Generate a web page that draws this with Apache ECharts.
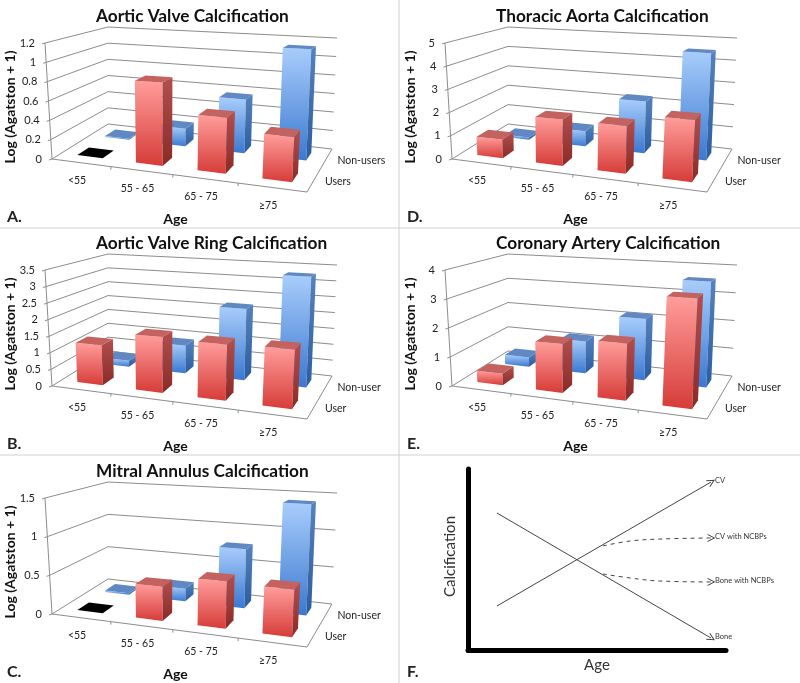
<!DOCTYPE html>
<html><head><meta charset="utf-8">
<style>html,body{margin:0;padding:0;background:#fff}#c{width:800px;height:683px}</style>
<script src="https://cdn.jsdelivr.net/npm/echarts@6/dist/echarts.min.js"></script>
</head><body><div id="c"></div>
<script>
// ---- data ----
const categories = ['<55', '55 - 65', '65 - 75', '≥75'];
const ticksA = [0, 0.2, 0.4, 0.6, 0.8, 1, 1.2];
const ticksB = [0, 0.5, 1, 1.5, 2, 2.5, 3, 3.5];
const ticksC = [0, 0.5, 1, 1.5];
const ticksD = [0, 1, 2, 3, 4, 5];
const ticksE = [0, 1, 2, 3, 4];
const usersA = [0, 0.82, 0.53, 0.41];
const nonUsersA = [0.01, 0.19, 0.56, 1.12];
const usersB = [1.2, 1.6, 1.55, 1.58];
const nonUsersB = [0.2, 0.88, 2.17, 3.25];
const usersC = [0, 0.42, 0.56, 0.54];
const nonUsersC = [0.02, 0.17, 0.77, 1.4];
const usersD = [0.8, 1.9, 1.88, 2.35];
const nonUsersD = [0.1, 0.68, 2.25, 4.5];
const usersE = [0.4, 1.6, 1.8, 3.35];
const nonUsersE = [0.35, 1.15, 2.13, 3.55];
const boneLine = [[11.2, 75.7], [94.2, 6.6]];
const cvLine = [[11.2, 24.3], [94.2, 92.8]];
const cvNcbp = [[52.3, 57.5], [62.8, 60.2], [74.4, 61.3], [94.2, 61.9]];
const boneNcbp = [[52.3, 42], [62.8, 39.8], [74.4, 38.1], [94.2, 37.6]];

const panels = [
  {t:'Aortic Valve Calcification', l:'A.', dx:0, dy:0, ticks:ticksA, u:usersA, n:nonUsersA, un:'Users', nn:'Non-users'},
  {t:'Aortic Valve Ring Calcification', l:'B.', dx:0, dy:227, ticks:ticksB, u:usersB, n:nonUsersB, un:'User', nn:'Non-user'},
  {t:'Mitral Annulus Calcification', l:'C.', dx:0, dy:455, ticks:ticksC, u:usersC, n:nonUsersC, un:'User', nn:'Non-user'},
  {t:'Thoracic Aorta Calcification', l:'D.', dx:400, dy:0, ticks:ticksD, u:usersD, n:nonUsersD, un:'User', nn:'Non-user'},
  {t:'Coronary Artery Calcification', l:'E.', dx:400, dy:227, ticks:ticksE, u:usersE, n:nonUsersE, un:'User', nn:'Non-user'}
];

// ---- layout of the 3-D box (panel relative) ----
const FONT = 'Lato, "Open Sans", sans-serif';
const floorQuad = [[52,159],[307,192],[332,149],[108,124]]; // front-left, front-right, back-right, back-left
const rise = [[-7,-116],[8,-138],[5,-111],[0,-97]];          // full-height offset at those corners
const BOX = {x:52, y:43, w:255, h:116};

function homography(q){
  const [[x0,y0],[x1,y1],[x2,y2],[x3,y3]] = q;
  const dx1=x1-x2, dx2=x3-x2, sx=x0-x1+x2-x3, dy1=y1-y2, dy2=y3-y2, sy=y0-y1+y2-y3;
  const den=dx1*dy2-dx2*dy1, g=(sx*dy2-dx2*sy)/den, h=(dx1*sy-sx*dy1)/den;
  const a=x1-x0+g*x1, b=x3-x0+h*x3, c=x0, d=y1-y0+g*y1, e=y3-y0+h*y3, f=y0;
  return (u,v)=>{const w=g*u+h*v+1; return [(a*u+b*v+c)/w,(d*u+e*v+f)/w];};
}
const floorH = homography(floorQuad);
const bil=(u,v,i)=>(1-u)*(1-v)*rise[0][i]+u*(1-v)*rise[1][i]+u*v*rise[2][i]+(1-u)*v*rise[3][i];

// screen position of a point given as pixel-in-grid (from the axes) and a depth 0..1
function project(p, px, py, depth){
  const fu=(px-(BOX.x+p.dx))/BOX.w, fh=(BOX.y+BOX.h+p.dy-py)/BOX.h;
  const a=floorH(fu,depth);
  return [a[0]+bil(fu,depth,0)*fh+p.dx, a[1]+bil(fu,depth,1)*fh+p.dy];
}
const txt=(text,x,y,align,font,fill)=>({type:'text',style:{text,x,y,align,verticalAlign:'middle',textAlign:align,textVerticalAlign:'middle',font,fill:fill||'#222'}});
const poly=(pts,fill)=>({type:'polygon',shape:{points:pts},style:{fill}});
const grad=(a,b)=>new echarts.graphic.LinearGradient(0,0,0,1,[{offset:0,color:a},{offset:1,color:b}]);

const barColors = {
  red:{front:['#ff9d9b','#d63c38'],side:['#b34f4c','#8a2a27'],top:'#c4625f'},
  blue:{front:['#a8cdfb','#3a78d0'],side:['#5583be','#2c5c9f'],top:'#6089c3'}
};
function barRender(p, col, vc){
  const BW=0.44, BD=0.2;
  return (params, api)=>{
    const i=api.value(0), val=api.value(1);
    const c0=api.coord([i,0]), c1=api.coord([i,val]), bw=api.size([1,0])[0]*BW/2;
    const P=(sx,sy,d)=>project(p,c0[0]+sx*bw,sy?c1[1]:c0[1],d);
    const v0=vc-BD/2, v1=vc+BD/2;
    const topFace=[P(-1,1,v0),P(1,1,v0),P(1,1,v1),P(-1,1,v1)];
    if(val===0) return {type:'group',children:[poly(topFace,'#000')]};
    return {type:'group',children:[
      poly([P(-1,0,v0),P(1,0,v0),P(1,1,v0),P(-1,1,v0)],grad(col.front[0],col.front[1])),
      poly([P(1,0,v0),P(1,0,v1),P(1,1,v1),P(1,1,v0)],grad(col.side[0],col.side[1])),
      poly(topFace,col.top)
    ]};
  };
}

const grids=[],xAxes=[],yAxes=[],titles=[],series=[],graphics=[];
panels.forEach((p,k)=>{
  const max=p.ticks[p.ticks.length-1];
  grids.push({left:BOX.x+p.dx,top:BOX.y+p.dy,width:BOX.w,height:BOX.h});
  xAxes.push({gridIndex:k,type:'category',data:categories,name:'Age',nameLocation:'middle',nameGap:53,
    nameTextStyle:{fontFamily:FONT,fontWeight:'bold',fontSize:14,color:'#111',padding:[0,8,0,0]},
    axisLine:{show:false},axisTick:{show:false},axisLabel:{show:false}});
  yAxes.push({gridIndex:k,type:'value',min:0,max:max,name:'Log (Agatston + 1)',nameLocation:'middle',nameGap:35,
    nameTextStyle:{fontFamily:FONT,fontWeight:'bold',fontSize:14,color:'#111',padding:[0,12,0,0]},
    axisLine:{show:false},axisTick:{show:false},axisLabel:{show:false},splitLine:{show:false}});
  titles.push({text:p.t,left:96+p.dx,top:8+p.dy,padding:0,
    textStyle:{fontFamily:FONT,fontWeight:'bold',fontSize:17.25,color:'#111'}});
  graphics.push({type:'text',left:7+p.dx,top:209+p.dy,style:{text:p.l,font:'bold 16px '+FONT,fill:'#222'}});
  const base={type:'custom',xAxisIndex:k,yAxisIndex:k,clip:false,silent:true,animation:false,encode:{x:0,y:1}};
  // walls: one item per y tick
  series.push({...base,data:p.ticks.map(t=>[0,t]),renderItem:(params,api)=>{
    const v=api.value(1), c=api.coord([0,v]), g=BOX.x+p.dx;
    const a=project(p,g,c[1],0), b=project(p,g,c[1],1), d=project(p,g+BOX.w,c[1],1);
    return {type:'group',children:[
      {type:'polyline',shape:{points:[[a[0]-3,a[1]+1],a,b,d]},style:{stroke:'#8c8c8c',lineWidth:1,fill:null}},
      txt(String(v),a[0]-10,a[1],'right','11px '+FONT)
    ]};
  }});
  // floor: one item per depth name, and the frame
  series.push({...base,data:[[0,0]],renderItem:(params,api)=>{
    const c=api.coord([0,0]), g=BOX.x+p.dx, yb=c[1], yt=api.coord([0,max])[1];
    const fl=project(p,g,yb,0), fr=project(p,g+BOX.w,yb,0), br=project(p,g+BOX.w,yb,1), tl=project(p,g,yt,0);
    const kids=[{type:'polyline',shape:{points:[tl,fl,fr,br]},style:{stroke:'#8c8c8c',lineWidth:1,fill:null}}];
    for(let i=1;i<4;i++){
      const a=project(p,g+BOX.w*i/4,yb,0);
      kids.push({type:'line',shape:{x1:a[0],y1:a[1],x2:a[0],y2:a[1]+3},style:{stroke:'#8c8c8c',lineWidth:1}});
    }
    return {type:'group',children:kids};
  }});
  // category labels
  series.push({...base,data:categories.map((_,i)=>[i,0]),renderItem:(params,api)=>{
    const c=api.coord([api.value(0),0]), a=project(p,c[0],c[1],0);
    return txt(categories[api.value(0)],a[0]-4,a[1]+18,'center','10.5px '+FONT);
  }});
  // depth labels
  series.push({...base,data:[[3,0,0.25],[3,0,0.75]],renderItem:(params,api)=>{
    const d=api.value(2), c=api.coord([0,0]), a=project(p,BOX.x+p.dx+BOX.w,c[1],d);
    return txt(d<0.5?p.un:p.nn,a[0]+11,a[1]+2,'left','10.5px '+FONT);
  }});
  series.push({...base,data:p.n.map((v,i)=>[i,v]),renderItem:barRender(p,barColors.blue,0.75)});
  series.push({...base,data:p.u.map((v,i)=>[i,v]),renderItem:barRender(p,barColors.red,0.25)});
});

// panel F
const fi=panels.length;
grids.push({left:468,top:469,width:258,height:181});
const fName={fontFamily:FONT,fontSize:15,color:'#333'};
xAxes.push({gridIndex:fi,type:'value',min:0,max:100,name:'Age',nameLocation:'middle',nameGap:8,nameTextStyle:fName,
  axisLine:{lineStyle:{color:'#000',width:5}},axisTick:{show:false},axisLabel:{show:false},splitLine:{show:false}});
yAxes.push({gridIndex:fi,type:'value',min:0,max:100,name:'Calcification',nameLocation:'middle',nameGap:10,nameTextStyle:{...fName,padding:[0,0,0,6]},
  axisLine:{lineStyle:{color:'#000',width:5}},axisTick:{show:false},axisLabel:{show:false},splitLine:{show:false}});
titles.push({show:false});
const CHEV='path://M0,0 L10,5 L0,10';
function fLine(name,data,dashed,rot){
  return {type:'line',name,xAxisIndex:fi,yAxisIndex:fi,data,smooth:dashed?0.4:false,animation:false,silent:true,
    showSymbol:true,showAllSymbol:true,
    symbol:(v,params)=>params.dataIndex===data.length-1?CHEV:'none',symbolSize:7,symbolRotate:rot,
    itemStyle:{color:'rgba(0,0,0,0)',borderColor:'#444',borderWidth:1,opacity:1},
    lineStyle:{color:'#444',width:1,type:dashed?[4,4]:'solid'},
    endLabel:{show:true,formatter:'{a}',distance:4,fontFamily:FONT,fontSize:7.5,color:'#333',offset:[0,-1]}};
}
series.push(fLine('Bone',boneLine,false,-30));
series.push(fLine('CV',cvLine,false,30));
series.push(fLine('CV with NCBPs',cvNcbp,true,0));
series.push(fLine('Bone with NCBPs',boneNcbp,true,0));
graphics.push({type:'text',left:407,top:664,style:{text:'F.',font:'bold 16px '+FONT,fill:'#222'}});

// panel separators
[[0,228,800,228],[0,455,800,455],[399,0,399,683]].forEach(l=>graphics.push({type:'line',silent:true,z:-1,
  shape:{x1:l[0],y1:l[1],x2:l[2],y2:l[3]},style:{stroke:'#cfcfcf',lineWidth:1}}));

const chart=echarts.init(document.getElementById('c'),null,{renderer:'canvas'});
chart.setOption({animation:false,backgroundColor:'#fff',title:titles,grid:grids,xAxis:xAxes,yAxis:yAxes,series,graphic:graphics,tooltip:{show:false}});
</script></body></html>
